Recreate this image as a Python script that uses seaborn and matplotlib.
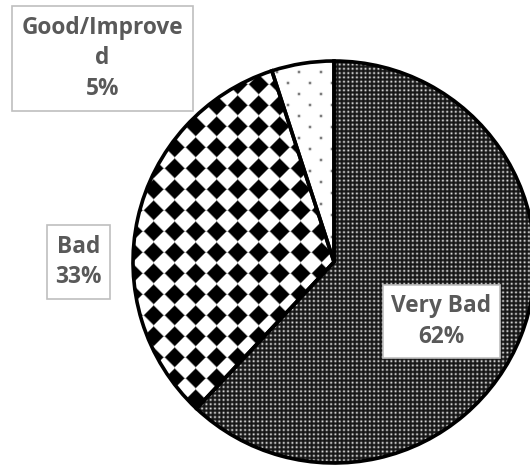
import numpy as np
import matplotlib
matplotlib.use("Agg")
import matplotlib.pyplot as plt
import seaborn as sns
from matplotlib.patches import Rectangle

# ---- data -------------------------------------------------------------
categories = ["Very Bad", "Bad", "Good/Improved"]
shares = [62, 33, 5]
# wrapped names as they appear in the label boxes
display_names = ["Very Bad", "Bad", "Good/Improve\nd"]

# ---- canvas (pixel-based coordinates) ---------------------------------
W, H = 530, 466
sns.set_theme(style="white")
plt.rcParams["font.family"] = ["Open Sans", "DejaVu Sans"]

fig = plt.figure(figsize=(W / 100, H / 100), dpi=100)
ax = fig.add_axes([0, 0, 1, 1])

center = (334, H - 262)
radius = 201

# ---- fill textures, one value per pixel ------------------------------
yy, xx = np.mgrid[0:H, 0:W] + 0.5


def nearest_offset(a, period, origin):
    return ((a - origin + period / 2) % period) - period / 2


def dense_dots():
    p = 4.3
    dx = nearest_offset(xx, p, 0.0)
    dy = nearest_offset(yy, p, 0.0)
    return 0.08 + 0.78 * np.exp(-(dx ** 2 + dy ** 2) / (2 * 0.8 ** 2))


def diamonds():
    d = 21.0
    dx = nearest_offset(xx, d, 216.7)
    dy = nearest_offset(yy, d, 273.3)
    l1 = np.abs(dx) + np.abs(dy)
    r = 0.47 * d
    return np.clip((l1 - r) / 2.0 + 0.5, 0, 1)


def sparse_dots():
    p = 22.0
    a_dx = nearest_offset(xx, p, 299.0)
    a_dy = nearest_offset(yy, p, 72.0)
    b_dx = nearest_offset(xx, p, 288.0)
    b_dy = nearest_offset(yy, p, 83.0)
    d2 = np.minimum(a_dx ** 2 + a_dy ** 2, b_dx ** 2 + b_dy ** 2)
    return 1.0 - 0.7 * np.exp(-d2 / (2 * 0.9 ** 2))


textures = [dense_dots(), diamonds(), sparse_dots()]

# ---- pie ---------------------------------------------------------------
wedges, _ = ax.pie(
    shares,
    startangle=90,
    counterclock=False,
    center=center,
    radius=radius,
    wedgeprops=dict(edgecolor="black", linewidth=2.6, facecolor="none",
                    joinstyle="miter"),
)
for wedge, tex in zip(wedges, textures):
    wedge.set_zorder(2)
    im = ax.imshow(tex, cmap="gray", vmin=0, vmax=1, extent=(0, W, 0, H),
                   origin="upper", interpolation="nearest", zorder=1)
    im.set_clip_path(wedge)

ax.set_xlim(0, W)
ax.set_ylim(0, H)
ax.set_aspect("equal")
ax.axis("off")

# ---- label boxes (x0, y0, x1, y1 in pixels from top-left) -------------
label_boxes = [(383, 285, 500, 358), (47, 225, 110, 299), (12, 6, 193, 111)]
for name, share, (x0, y0, x1, y1) in zip(display_names, shares, label_boxes):
    ax.add_patch(Rectangle((x0, H - y1), x1 - x0, y1 - y0, facecolor="white",
                           edgecolor="#bfbfbf", linewidth=1.2, zorder=3))
    ax.text((x0 + x1) / 2, H - (y0 + y1) / 2, f"{name}\n{share}%",
            ha="center", va="center", fontsize=16.3, fontweight="bold",
            color="#595959", linespacing=1.36, zorder=4)

fig.savefig("out.png", dpi=100)
